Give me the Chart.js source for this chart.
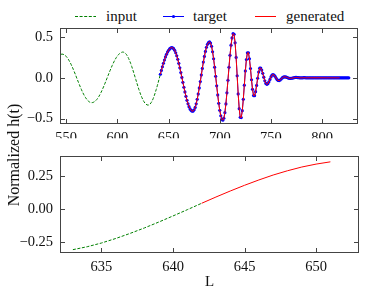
<!DOCTYPE html>
<html>
<head>
<meta charset="utf-8">
<script src="https://cdn.jsdelivr.net/npm/chart.js@4.4.1/dist/chart.umd.min.js"></script>
<style>
  body { margin: 0; background: #fff; }
  #wrap { position: relative; width: 374px; height: 295px; font-family: "Liberation Serif", serif; color: #111; }
  canvas { position: absolute; left: 0; }
  .leg { position: absolute; top: 7px; font-size: 15px; line-height: 18px; white-space: nowrap; }
  .sample { position: absolute; top: 7px; }
  #ylabel { position: absolute; left: 6px; top: 108px; width: 16px; height: 94px; }
  #ylabel span { position: absolute; left: 8px; top: 47px; transform: translate(-50%, -50%) rotate(-90deg); font-size: 16px; line-height: 16px; white-space: nowrap; }
</style>
</head>
<body>
<div id="wrap">
  <svg class="sample" style="left:75px" width="21" height="18"><line x1="0" y1="9.5" x2="21" y2="9.5" stroke="#008000" stroke-width="1" stroke-dasharray="3,1.6"/></svg>
  <span class="leg" style="left:106px">input</span>
  <svg class="sample" style="left:163px" width="21" height="18"><line x1="0" y1="9.5" x2="21" y2="9.5" stroke="#0000ff" stroke-width="1"/><circle cx="10.5" cy="9.5" r="1.6" fill="#0000ff"/></svg>
  <span class="leg" style="left:193px">target</span>
  <svg class="sample" style="left:255px" width="21" height="18"><line x1="0" y1="9.5" x2="21" y2="9.5" stroke="#ff0000" stroke-width="1"/></svg>
  <span class="leg" style="left:286px">generated</span>
  <canvas id="topChart" width="374" height="140" style="top:0"></canvas>
  <canvas id="zoomChart" width="374" height="155" style="top:140px"></canvas>
  <div id="ylabel"><span>Normalized h(t)</span></div>
</div>
<script>
// input: L = 545 .. 642
const inputStart = 545;
const inputValues = [
  0.288, 0.290, 0.288, 0.283, 0.274, 0.263, 0.247, 0.229, 0.208, 0.185,
  0.160, 0.132, 0.103, 0.072, 0.041, 0.009, -0.024, -0.056, -0.087, -0.118,
  -0.147, -0.175, -0.200, -0.224, -0.244, -0.262, -0.278, -0.289, -0.298, -0.303,
  -0.305, -0.303, -0.298, -0.290, -0.279, -0.265, -0.248, -0.228, -0.206, -0.181,
  -0.155, -0.126, -0.097, -0.066, -0.035, -0.003, 0.029, 0.061, 0.092, 0.122,
  0.151, 0.178, 0.204, 0.227, 0.248, 0.267, 0.282, 0.295, 0.305, 0.311,
  0.315, 0.314, 0.309, 0.298, 0.283, 0.262, 0.237, 0.208, 0.176, 0.140,
  0.102, 0.062, 0.021, -0.020, -0.062, -0.102, -0.142, -0.179, -0.213, -0.243,
  -0.270, -0.293, -0.311, -0.324, -0.332, -0.335, -0.332, -0.322, -0.305, -0.283,
  -0.255, -0.221, -0.183, -0.142, -0.098, -0.052, -0.005, 0.043
];

// target: L = 642 .. 826
const targetStart = 642;
const targetValues = [
  0.043, 0.090, 0.135, 0.178, 0.218, 0.255, 0.287, 0.315, 0.337, 0.354,
  0.365, 0.370, 0.368, 0.357, 0.336, 0.307, 0.270, 0.227, 0.177, 0.122,
  0.064, 0.004, -0.056, -0.116, -0.173, -0.227, -0.276, -0.319, -0.354, -0.381,
  -0.399, -0.409, -0.408, -0.393, -0.363, -0.319, -0.263, -0.198, -0.124, -0.046,
  0.035, 0.115, 0.192, 0.262, 0.323, 0.373, 0.410, 0.432, 0.440, 0.426,
  0.385, 0.319, 0.233, 0.130, 0.018, -0.098, -0.210, -0.313, -0.399, -0.465,
  -0.506, -0.520, -0.496, -0.428, -0.320, -0.184, -0.030, 0.128, 0.275, 0.399,
  0.488, 0.540, 0.532, 0.428, 0.249, 0.025, -0.198, -0.378, -0.485, -0.487,
  -0.403, -0.264, -0.090, 0.084, 0.223, 0.306, 0.307, 0.232, 0.114, -0.024,
  -0.142, -0.218, -0.219, -0.170, -0.094, -0.006, 0.070, 0.118, 0.119, 0.095,
  0.055, 0.008, -0.037, -0.069, -0.080, -0.072, -0.050, -0.020, 0.010, 0.032,
  0.040, 0.034, 0.018, -0.003, -0.022, -0.033, -0.034, -0.027, -0.015, -0.002,
  0.008, 0.012, 0.011, 0.007, 0.002, -0.003, -0.007, -0.008, -0.006, -0.003,
  0.000, 0.002, 0.004, 0.004, 0.003, 0.001, 0.000, -0.001, -0.001, 0.000,
  0.001, 0.001, 0.000, 0.000, 0.000, 0.000, 0.000, 0.000, 0.000, 0.000,
  0.000, 0.000, 0.000, 0.000, 0.000, 0.000, 0.000, 0.000, 0.000, 0.000,
  0.000, 0.000, 0.000, 0.000, 0.000, 0.000, 0.000, 0.000, 0.000, 0.000,
  0.000, 0.000, 0.000, 0.000, 0.000, 0.000, 0.000, 0.000, 0.000, 0.000,
  0.000, 0.000, 0.000, 0.000, 0.000
];

// generated follows the target exactly, but stops at L = 817
const generatedStart = 642;
const generatedValues = targetValues.slice(0, 176);

const topXTicks = [550, 600, 650, 700, 750, 800];
const topYTicks = [-0.5, 0, 0.5];
const zoomXTicks = [635, 640, 645, 650];
const zoomYTicks = [-0.25, 0, 0.25];
const zoomFrom = 633;
const zoomTo = 651;

const toPoints = (start, values) => values.map((y, i) => ({ x: start + i, y: y }));

const inputPts = toPoints(inputStart, inputValues);
const targetPts = toPoints(targetStart, targetValues);
const generatedPts = toPoints(generatedStart, generatedValues);

const tickFont = { family: "'Liberation Serif', serif", size: 14.5 };
const minus = s => s.replace("-", "\u2212");

// matplotlib-ish frame with ticks pointing inwards on all four sides
const framePlugin = {
  id: "frame",
  afterDraw(chart) {
    const { ctx, chartArea: a, scales } = chart;
    const L = Math.round(a.left) + 0.5, R = Math.round(a.right) - 0.5;
    const T = Math.round(a.top) + 0.5, B = Math.round(a.bottom) - 0.5;
    ctx.save();
    ctx.strokeStyle = "#444";
    ctx.lineWidth = 1;
    ctx.beginPath();
    scales.x.ticks.forEach(t => {
      const px = Math.round(scales.x.getPixelForValue(t.value)) + 0.5;
      ctx.moveTo(px, B); ctx.lineTo(px, B - 4.5);
      ctx.moveTo(px, T); ctx.lineTo(px, T + 4.5);
    });
    scales.y.ticks.forEach(t => {
      const py = Math.round(scales.y.getPixelForValue(t.value)) + 0.5;
      ctx.moveTo(L, py); ctx.lineTo(L + 4.5, py);
      ctx.moveTo(R, py); ctx.lineTo(R - 4.5, py);
    });
    ctx.stroke();
    ctx.strokeRect(L, T, R - L, B - T);
    ctx.restore();
  }
};

function makeChart(id, datasets, xr, yr, xTicks, yTicks, digits, pad, xHeight, xTitle) {
  return new Chart(document.getElementById(id), {
    type: "line",
    data: { datasets: datasets },
    options: {
      responsive: false,
      animation: false,
      devicePixelRatio: 1,
      layout: { padding: pad },
      plugins: { legend: { display: false }, tooltip: { enabled: false } },
      elements: { line: { tension: 0 } },
      scales: {
        x: {
          type: "linear",
          min: xr[0], max: xr[1],
          afterBuildTicks: s => { s.ticks = xTicks.map(v => ({ value: v })); },
          afterFit: s => { s.height = xHeight; },
          grid: { display: false, drawTicks: false },
          border: { display: false },
          ticks: { font: tickFont, color: "#111", padding: 5, maxRotation: 0, autoSkip: false, callback: v => String(v) },
          title: xTitle ? { display: true, text: xTitle, font: { family: "'Liberation Serif', serif", size: 15 }, color: "#111", padding: { top: 0, bottom: 4 } } : { display: false }
        },
        y: {
          min: yr[0], max: yr[1],
          afterBuildTicks: s => { s.ticks = yTicks.map(v => ({ value: v })); },
          afterFit: s => { s.width = 60; },
          grid: { display: false, drawTicks: false },
          border: { display: false },
          ticks: { font: tickFont, color: "#111", padding: 7, callback: v => minus(Number(v).toFixed(digits)) }
        }
      }
    },
    plugins: [framePlugin]
  });
}

const inputStyle = { borderColor: "#008000", borderWidth: 1, borderDash: [3, 1.6], pointRadius: 0, order: 2 };
const generatedStyle = { borderColor: "#ff0000", borderWidth: 1, pointRadius: 0, order: 0 };

makeChart("topChart", [
  Object.assign({ label: "input", data: inputPts }, inputStyle),
  { label: "target", data: targetPts, borderColor: "#0000ff", borderWidth: 1, pointRadius: 1.6,
    pointBorderWidth: 0, pointBackgroundColor: "#0000ff", order: 1 },
  Object.assign({ label: "generated", data: generatedPts }, generatedStyle)
], [544, 835], [-0.57, 0.61], topXTicks, topYTicks, 1, { top: 28, right: 16, left: 0, bottom: 0 }, 14, null);

makeChart("zoomChart", [
  Object.assign({ label: "input", data: inputPts.filter(p => p.x >= zoomFrom) }, inputStyle),
  Object.assign({ label: "generated", data: generatedPts.filter(p => p.x <= zoomTo) }, generatedStyle)
], [632.1, 653], [-0.33, 0.40], zoomXTicks, zoomYTicks, 2, { top: 15, right: 15, left: 0, bottom: 0 }, 42, "L");
</script>
</body>
</html>
